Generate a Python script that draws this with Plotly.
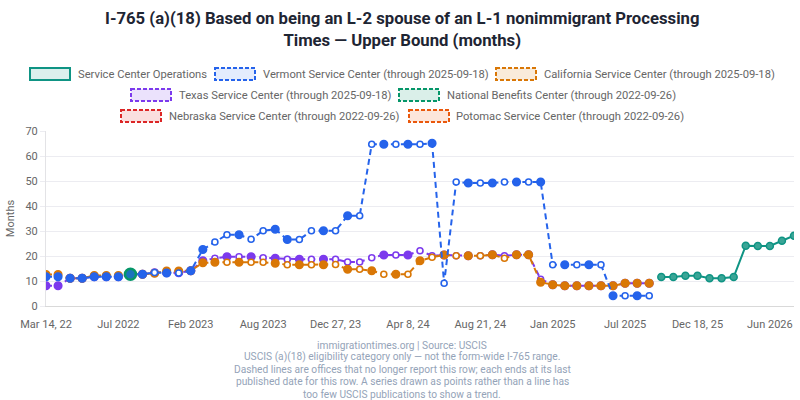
import plotly.graph_objs as go

# ==========================================
# data
# ==========================================
pub_dates = [
    "2022-03-14", "2022-04-04", "2022-04-25", "2022-05-16", "2022-06-06", "2022-06-27",
    "2022-07-18", "2022-09-26", "2022-10-17", "2022-11-07", "2022-11-28", "2022-12-19",
    "2023-02-06", "2023-03-06", "2023-04-03", "2023-04-24", "2023-05-15", "2023-06-12",
    "2023-08-07", "2023-08-28", "2023-09-18", "2023-10-09", "2023-10-30", "2023-11-27",
    "2023-12-27", "2024-01-17", "2024-02-07", "2024-02-28", "2024-03-13", "2024-03-27",
    "2024-04-08", "2024-04-29", "2024-05-20", "2024-06-10", "2024-07-01", "2024-07-22",
    "2024-08-21", "2024-09-11", "2024-10-02", "2024-10-23", "2024-11-13", "2024-12-04",
    "2025-01-06", "2025-02-03", "2025-03-03", "2025-03-31", "2025-05-05", "2025-06-02",
    "2025-07-07", "2025-08-11", "2025-09-18", "2025-10-09", "2025-10-30", "2025-11-20",
    "2025-12-18", "2026-01-15", "2026-02-12", "2026-03-12", "2026-04-09", "2026-05-07",
    "2026-06-04", "2026-06-25", "2026-07-16",
]

tick_dates = ["2022-03-14", "2022-07-18", "2023-02-06", "2023-08-07", "2023-12-27", "2024-04-08",
              "2024-08-21", "2025-01-06", "2025-07-07", "2025-12-18", "2026-06-04"]
tick_labels = ["Mar 14, 22", "Jul 2022", "Feb 2023", "Aug 2023", "Dec 27, 23", "Apr 8, 24",
               "Aug 21, 24", "Jan 2025", "Jul 2025", "Dec 18, 25", "Jun 2026"]

# offices that stopped reporting on 2025-09-18
vermont = [11.7, 11.7, 11.1, 11.1, 11.7, 11.7, 11.7, 12.7, 12.7, 13.4, 13.2, 13.2, 14.1,
           22.6, 25.6, 28.5, 28.5, 26.7, 30.1, 30.7, 26.6, 26.6, 30.1, 30.1, 30.1, 36.1,
           36.1, 64.7, 64.7, 64.7, 64.7, 64.7, 65.1, 9.1, 49.6, 49.2, 49.2, 49.2, 49.6,
           49.6, 49.6, 49.6, 16.5, 16.5, 16.5, 16.5, 16.5, 4.1, 4.1, 4.1, 4.1]
california = [12.6, 12.6, 11.1, 11.1, 12.2, 12.2, 12.2, 12.7, 12.7, 13.1, 14.0, 14.0, 14.1,
              17.3, 17.5, 17.5, 17.5, 17.5, 17.5, 17.1, 16.5, 16.5, 16.5, 16.5, 16.6, 14.7,
              14.7, 14.1, 12.7, 12.7, 12.7, 18.1, 19.5, 20.4, 20.1, 20.1, 20.1, 20.5, 19.1,
              20.5, 20.5, 9.5, 8.5, 8.1, 8.1, 8.1, 8.1, 8.1, 9.1, 9.1, 9.1]
texas = [8.1, 8.1, 11.1, 11.1, 11.7, 11.7, 11.7, 12.7, 12.7, 13.3, 13.3, 13.3, 14.1,
         18.1, 19.1, 19.7, 19.7, 19.7, 19.3, 19.1, 18.7, 18.7, 18.7, 18.7, 18.7, 17.6,
         17.6, 19.3, 20.4, 20.4, 20.4, 22.1, 20.1, 20.4, 20.1, 20.1, 20.1, 20.5, 20.1,
         20.5, 20.5, 10.7, 8.5, 8.1, 8.1, 8.1, 8.1, 8.1, 9.1, 9.1, 9.1]

# service center operations (current)
sco_dates = pub_dates[51:]
sco = [11.6, 11.6, 12.1, 12.1, 11.1, 11.1, 11.6, 24.1, 24.0, 24.0, 26.1, 28.1]

# offices with a single publication (through 2022-09-26)
single_dates = ["2022-09-26"]
nbc = [12.7]
nebraska = [12.7]
potomac = [12.7]

# which points are drawn hollow (style only)
hollow_vt = [9, 11, 14, 15, 17, 18, 21, 22, 24, 26, 27, 29, 31, 33, 34, 36, 38, 40, 42, 44, 46, 48, 50]
hollow_ca = [15, 17, 18, 20, 22, 24, 26, 28, 30, 32, 34, 36, 38]
hollow_tx = [14, 16, 18, 20, 22, 24, 25, 26, 27, 29, 31, 32, 34, 36, 38, 41]

# ==========================================
# figure
# ==========================================
W, H = 800, 400
L, R, T, B = 46, 6, 131, 94
FONT = "Roboto, Liberation Sans, Arial, sans-serif"

C_SCO = "#0f9484"
C_VT = "#2563eb"
C_CA = "#d97706"
C_TX = "#7c3aed"
C_NBC = "#059669"
C_NE = "#dc2626"
C_PO = "#ea580c"


def dashed(x, y, name, color, hollow):
    fills = ["white" if i in hollow else color for i in range(len(y))]
    sizes = [6 if i in hollow else 7.5 for i in range(len(y))]
    return go.Scatter(
        x=x, y=y, name=name, mode="lines+markers",
        line=dict(color=color, width=2, dash="6px,4px"),
        marker=dict(size=sizes, color=fills, opacity=1, line=dict(color=color, width=1.6)),
        showlegend=False,
    )


fig = go.Figure()
fig.add_trace(go.Scatter(x=single_dates, y=potomac, mode="markers", showlegend=False,
                         marker=dict(size=7, color=C_PO)))
fig.add_trace(go.Scatter(x=single_dates, y=nebraska, mode="markers", showlegend=False,
                         marker=dict(size=7, color=C_NE)))
fig.add_trace(dashed(pub_dates[:51], texas, "Texas", C_TX, hollow_tx))
fig.add_trace(dashed(pub_dates[:51], california, "California", C_CA, hollow_ca))
fig.add_trace(dashed(pub_dates[:51], vermont, "Vermont", C_VT, hollow_vt))
fig.add_trace(go.Scatter(x=single_dates, y=nbc, mode="markers", showlegend=False,
                         marker=dict(size=11, color="rgba(5,150,105,0.35)",
                                     line=dict(color=C_NBC, width=2.5))))
fig.add_trace(go.Scatter(x=sco_dates, y=sco, mode="lines+markers", showlegend=False,
                         line=dict(color=C_SCO, width=2),
                         marker=dict(size=7, color="#3aa596", opacity=1,
                                     line=dict(color=C_SCO, width=1.5))))


def px_x(p):
    return (p - L) / (W - L - R)


def px_y(p):
    return 1 - (p - T) / (H - T - B)


# legend drawn by hand (boxes like the original)
legend_items = [
    # box left, row centre y, text left, label, colour, fill, dashed
    (30, 74, 76, "Service Center Operations", C_SCO, "rgba(15,148,132,0.15)", False),
    (215, 74, 261, "Vermont Service Center (through 2025-09-18)", C_VT, "rgba(37,99,235,0.12)", True),
    (496, 74, 542, "California Service Center (through 2025-09-18)", C_CA, "rgba(217,119,6,0.15)", True),
    (131, 95, 177, "Texas Service Center (through 2025-09-18)", C_TX, "rgba(124,58,237,0.15)", True),
    (399, 95, 445, "National Benefits Center (through 2022-09-26)", C_NBC, "rgba(5,150,105,0.15)", True),
    (121, 116, 167, "Nebraska Service Center (through 2022-09-26)", C_NE, "rgba(220,38,38,0.15)", True),
    (409, 116, 454, "Potomac Service Center (through 2022-09-26)", C_PO, "rgba(234,88,12,0.15)", True),
]
shapes = []
annotations = []
for bx, cy, tx, label, col, fill, is_dash in legend_items:
    shapes.append(dict(
        type="rect", xref="paper", yref="paper",
        x0=px_x(bx), x1=px_x(bx + 40), y0=px_y(cy - 6), y1=px_y(cy + 6),
        line=dict(color=col, width=2, dash="4px,2px" if is_dash else "solid"),
        fillcolor=fill, layer="above",
    ))
    annotations.append(dict(
        text=label, xref="paper", yref="paper", x=px_x(tx), y=px_y(cy),
        xanchor="left", yanchor="middle", showarrow=False,
        font=dict(family=FONT, size=11.2, color="#666666"),
    ))

# title
annotations.append(dict(
    text="<b>I-765 (a)(18) Based on being an L-2 spouse of an L-1 nonimmigrant Processing<br>"
         "Times — Upper Bound (months)</b>",
    xref="paper", yref="paper", x=px_x(402), y=px_y(29.5), xanchor="center", yanchor="middle",
    showarrow=False, font=dict(family=FONT, size=16.7, color="#1e2533"),
))

# footer, one annotation per line to keep the tight line spacing
footer_lines = [
    "immigrationtimes.org | Source: USCIS",
    "USCIS (a)(18) eligibility category only — not the form-wide I-765 range.",
    "Dashed lines are offices that no longer report this row; each ends at its last",
    "published date for this row. A series drawn as points rather than a line has",
    "too few USCIS publications to show a trend.",
]
for k, line in enumerate(footer_lines):
    annotations.append(dict(
        text=line, xref="paper", yref="paper", x=px_x(402), y=px_y(345 + 12.3 * k),
        xanchor="center", yanchor="middle", showarrow=False,
        font=dict(family=FONT, size=10.2, color="#94a3b8"),
    ))

fig.update_layout(
    width=W, height=H,
    margin=dict(l=L, r=R, t=T, b=B, autoexpand=False),
    paper_bgcolor="white", plot_bgcolor="white",
    showlegend=False,
    shapes=shapes,
    annotations=annotations,
    font=dict(family=FONT, size=11, color="#666666"),
    xaxis=dict(
        type="category", categoryorder="array", categoryarray=pub_dates,
        range=[0, len(pub_dates) - 1],
        tickvals=tick_dates, ticktext=tick_labels, tickangle=0,
        showgrid=False, zeroline=False,
        showline=True, linecolor="#d9d9d9", linewidth=1,
        ticks="outside", ticklen=8, tickcolor="rgba(0,0,0,0)",
        tickfont=dict(size=11, color="#666666"),
    ),
    yaxis=dict(
        range=[0, 70], dtick=10, tick0=0,
        gridcolor="#ececf1", gridwidth=1, zeroline=False,
        showline=True, linecolor="#e3e3e6", linewidth=1,
        ticks="outside", ticklen=5, tickcolor="#ececf1",
        tickfont=dict(size=11, color="#666666"),
        title=dict(text="Months", font=dict(size=11, color="#666666"), standoff=8),
    ),
)

fig.write_html("out.html", config={"displayModeBar": False},
               post_script="document.body.style.margin='0';")
